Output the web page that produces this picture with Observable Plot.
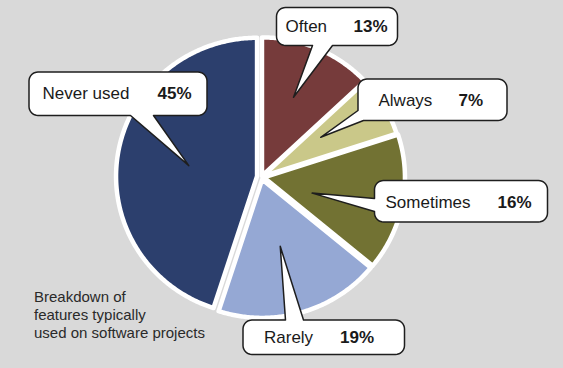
<!DOCTYPE html>
<html>
<head>
<meta charset="utf-8">
<script src="https://cdn.jsdelivr.net/npm/d3@7"></script>
<script src="https://cdn.jsdelivr.net/npm/@observablehq/plot@0.6"></script>
<style>
  html, body { margin: 0; padding: 0; background: #d9d9d9; }
  #chart svg { display: block; }
</style>
</head>
<body>
<div id="chart"></div>
<script>
// ---- data ----
const categories = ["Often", "Always", "Sometimes", "Rarely", "Never used"];
const values = [13, 7, 16, 19, 45];
const caption = "Breakdown of\nfeatures typically\nused on software projects";

// ---- style / layout ----
const colors = ["#763b3b", "#cac889", "#727233", "#95a8d4", "#2c3f6d"];
const W = 563, H = 368;
const center = {x: 261, y: 176.5};
const rx = 141, ry = 138.5;
const explode = [1.2, 1.2, 2.5, 2.5, 4.5];
// callout boxes (layout) and where the pointer leaves each box
const boxes = [
  {x0: 276, y0: 7, x1: 397, y1: 45, side: "bottom", b0: 312, b1: 332},
  {x0: 357.5, y0: 78.5, x1: 506.5, y1: 120, side: "corner", b0: 110, b1: 363},
  {x0: 374, y0: 180, x1: 547, y1: 221.5, side: "left", b0: 198, b1: 211},
  {x0: 242.5, y0: 319.5, x1: 404, y1: 354, side: "top", b0: 285, b1: 303},
  {x0: 28.5, y0: 71.5, x1: 206.5, y1: 115, side: "bottom", b0: 130, b1: 153}
];
const labelX = [285, 378, 385, 263.5, 42];
const pctX = [353, 458, 497, 339.5, 157];
const labelY = [26, 100, 202, 337, 93];
const tipT = [0.46, 0.35, 0.63, 0.52, 0.5];
const tipF = [0.61, 0.5, 0.36, 0.5, 0.49];
const cornerR = 9;

// ---- geometry from data ----
const pie = d3.pie().sort(null).value(d => d)(values);
const slicePts = [];
const tips = [];
pie.forEach((p, i) => {
  const mid = (p.startAngle + p.endAngle) / 2;
  const ox = center.x + explode[i] * Math.sin(mid);
  const oy = center.y - explode[i] * Math.cos(mid);
  slicePts.push({key: categories[i], x: ox, y: oy});
  const n = Math.max(2, Math.ceil((p.endAngle - p.startAngle) / 0.01));
  for (let k = 0; k <= n; k++) {
    const a = p.startAngle + (p.endAngle - p.startAngle) * k / n;
    slicePts.push({key: categories[i], x: ox + rx * Math.sin(a), y: oy - ry * Math.cos(a)});
  }
  const ta = p.startAngle + (p.endAngle - p.startAngle) * tipT[i];
  tips.push([ox + tipF[i] * rx * Math.sin(ta), oy - tipF[i] * ry * Math.cos(ta)]);
});

function outline(b, tip, key) {
  const r = cornerR, pts = [];
  const arc = (cx, cy, a0, a1) => {
    for (let k = 0; k <= 8; k++) {
      const a = a0 + (a1 - a0) * k / 8;
      pts.push([cx + r * Math.cos(a), cy + r * Math.sin(a)]);
    }
  };
  const P = Math.PI;
  arc(b.x0 + r, b.y0 + r, P, 1.5 * P);
  if (b.side === "top") { pts.push([b.b0, b.y0], tip, [b.b1, b.y0]); }
  arc(b.x1 - r, b.y0 + r, 1.5 * P, 2 * P);
  arc(b.x1 - r, b.y1 - r, 0, 0.5 * P);
  if (b.side === "bottom") { pts.push([b.b1, b.y1], tip, [b.b0, b.y1]); }
  if (b.side === "corner") { pts.push([b.b1, b.y1], tip, [b.x0, b.b0]); }
  else arc(b.x0 + r, b.y1 - r, 0.5 * P, P);
  if (b.side === "left") { pts.push([b.x0, b.b1], tip, [b.x0, b.b0]); }
  return pts.map(([x, y]) => ({key, x, y}));
}
const calloutPts = boxes.flatMap((b, i) => outline(b, tips[i], categories[i]));

const labelData = categories.map((c, i) => ({c, v: values[i] + "%", lx: labelX[i], px: pctX[i], y: labelY[i]}));

const font = "'Liberation Sans', Arial, Helvetica, sans-serif";

const chart = Plot.plot({
  width: W, height: H,
  margin: 0,
  x: {domain: [0, W], range: [0, W], axis: null},
  y: {domain: [0, H], range: [0, H], axis: null},
  style: {background: "#d9d9d9", fontFamily: font},
  marks: [
    ...categories.map((c, i) => Plot.line(slicePts.filter(d => d.key === c), {
      x: "x", y: "y", fill: colors[i], stroke: "white", strokeWidth: 4.5,
      strokeLinejoin: "round", curve: "linear-closed"
    })),
    Plot.line(calloutPts, {
      x: "x", y: "y", z: "key", fill: "white", stroke: "#1e1e1e", strokeWidth: 1.5,
      strokeLinejoin: "round", curve: "linear-closed"
    }),
    Plot.text(labelData, {x: "lx", y: "y", text: "c", textAnchor: "start", fontSize: 17, fill: "#1a1a1a", fontFamily: font}),
    Plot.text(labelData, {x: "px", y: "y", text: "v", textAnchor: "start", fontSize: 17, fontWeight: "bold", fill: "#1a1a1a", fontFamily: font}),
    Plot.text([caption], {x: 33.5, y: 313.5, text: d => d, textAnchor: "start", lineAnchor: "middle", lineHeight: 1.22, fontSize: 15, fill: "#2a2a2a", fontFamily: font})
  ]
});
document.getElementById("chart").appendChild(chart);
</script>
</body>
</html>
